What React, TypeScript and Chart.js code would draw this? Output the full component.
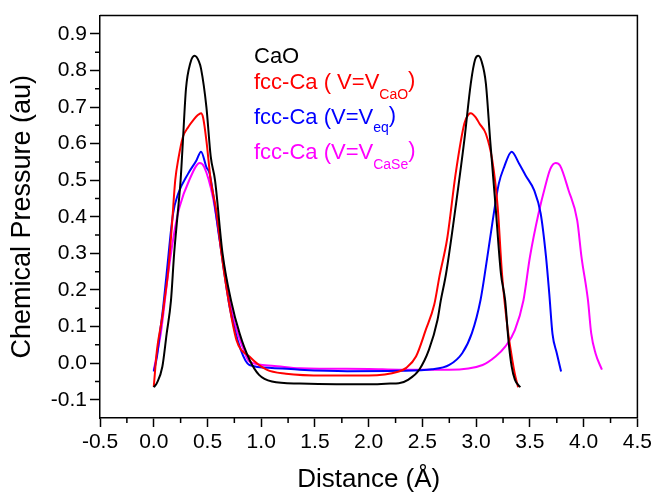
import React, { useEffect, useRef } from "react";
import { Chart, registerables } from "chart.js";

Chart.register(...registerables);

// ---- Data ----
const caoX = [0.0, 0.03, 0.08, 0.12, 0.16, 0.19, 0.22, 0.25, 0.27, 0.30, 0.34, 0.38, 0.42, 0.44, 0.49, 0.53, 0.57, 0.64, 0.72, 0.80, 0.89, 0.98, 1.10, 1.36, 1.70, 2.00, 2.20, 2.28, 2.37, 2.47, 2.56, 2.64, 2.67, 2.72, 2.81, 2.89, 2.95, 2.99, 3.02, 3.05, 3.09, 3.13, 3.18, 3.23, 3.27, 3.30, 3.33, 3.36, 3.41];
const caoY = [-0.066, -0.054, -0.01, 0.08, 0.17, 0.30, 0.40, 0.50, 0.60, 0.75, 0.82, 0.84, 0.825, 0.805, 0.70, 0.565, 0.50, 0.30, 0.17, 0.08, 0.01, -0.032, -0.05, -0.056, -0.058, -0.058, -0.056, -0.055, -0.045, -0.018, 0.036, 0.118, 0.17, 0.245, 0.43, 0.61, 0.765, 0.83, 0.84, 0.825, 0.765, 0.61, 0.43, 0.245, 0.17, 0.063, -0.009, -0.045, -0.066];

const caoVolX = [0.0, 0.03, 0.08, 0.10, 0.134, 0.17, 0.20, 0.23, 0.27, 0.32, 0.37, 0.41, 0.44, 0.46, 0.49, 0.53, 0.58, 0.63, 0.68, 0.77, 0.89, 1.05, 1.23, 1.60, 2.00, 2.28, 2.35, 2.44, 2.53, 2.61, 2.66, 2.73, 2.81, 2.89, 2.93, 2.95, 3.00, 3.03, 3.09, 3.15, 3.20, 3.24, 3.29, 3.33, 3.36, 3.39];
const caoVolY = [-0.065, 0.036, 0.127, 0.172, 0.25, 0.38, 0.50, 0.56, 0.617, 0.645, 0.665, 0.678, 0.683, 0.67, 0.608, 0.50, 0.42, 0.30, 0.20, 0.063, 0.018, -0.018, -0.029, -0.034, -0.034, -0.023, -0.013, 0.018, 0.09, 0.16, 0.24, 0.34, 0.52, 0.655, 0.68, 0.683, 0.67, 0.655, 0.627, 0.554, 0.427, 0.245, 0.10, 0.02, -0.03, -0.066];

const eqVolX = [0.0, 0.03, 0.057, 0.088, 0.12, 0.18, 0.227, 0.32, 0.397, 0.44, 0.49, 0.52, 0.613, 0.706, 0.81, 0.89, 1.10, 1.36, 1.80, 2.28, 2.59, 2.75, 2.87, 2.96, 3.04, 3.09, 3.15, 3.21, 3.26, 3.33, 3.40, 3.46, 3.54, 3.60, 3.65, 3.68, 3.71, 3.75, 3.79];
const eqVolY = [-0.023, 0.018, 0.082, 0.154, 0.245, 0.409, 0.463, 0.518, 0.554, 0.578, 0.536, 0.518, 0.336, 0.154, 0.036, -0.005, -0.013, -0.018, -0.022, -0.021, -0.017, -0.005, 0.027, 0.082, 0.172, 0.263, 0.382, 0.49, 0.536, 0.578, 0.545, 0.513, 0.472, 0.409, 0.29, 0.19, 0.08, 0.027, -0.023];

const caseVolX = [0.0, 0.03, 0.066, 0.134, 0.20, 0.24, 0.33, 0.428, 0.47, 0.55, 0.64, 0.73, 0.83, 0.89, 1.10, 1.36, 2.00, 2.28, 2.75, 3.06, 3.18, 3.27, 3.36, 3.44, 3.50, 3.58, 3.64, 3.69, 3.74, 3.78, 3.86, 3.94, 3.98, 4.04, 4.07, 4.11, 4.17];
const caseVolY = [-0.02, 0.025, 0.082, 0.245, 0.372, 0.427, 0.50, 0.547, 0.536, 0.454, 0.29, 0.136, 0.042, 0.004, -0.007, -0.014, -0.016, -0.018, -0.018, -0.005, 0.018, 0.045, 0.09, 0.172, 0.29, 0.409, 0.481, 0.531, 0.547, 0.54, 0.472, 0.39, 0.29, 0.172, 0.082, 0.027, -0.018];

const seriesNames = ["CaO", "fcc-Ca (V=V_CaO)", "fcc-Ca (V=V_eq)", "fcc-Ca (V=V_CaSe)"];
const seriesColors = ["#000000", "#ff0000", "#0000ff", "#ff00ff"];

const legendMain = ["CaO", "fcc-Ca ( V=V", "fcc-Ca (V=V", "fcc-Ca (V=V"];
const legendSub = ["", "CaO", "eq", "CaSe"];
const legendClose = ["", ")", ")", ")"];

const xTickValues = [-0.5, 0.0, 0.5, 1.0, 1.5, 2.0, 2.5, 3.0, 3.5, 4.0, 4.5];
const xMinorValues = [-0.25, 0.25, 0.75, 1.25, 1.75, 2.25, 2.75, 3.25, 3.75, 4.25];
const yTickValues = [-0.1, 0.0, 0.1, 0.2, 0.3, 0.4, 0.5, 0.6, 0.7, 0.8, 0.9];
const yMinorValues = [-0.05, 0.05, 0.15, 0.25, 0.35, 0.45, 0.55, 0.65, 0.75, 0.85];

const xTitle = "Distance (Å)";
const yTitle = "Chemical Pressure (au)";

const FONT = "'Liberation Sans', Arial, Helvetica, sans-serif";

function toPoints(xs: number[], ys: number[]) {
  return xs.map((x, i) => ({ x, y: ys[i] }));
}

const decorPlugin = {
  id: "decor",
  afterDraw(chart: any) {
    const { ctx, chartArea: a, scales } = chart;
    ctx.save();
    ctx.strokeStyle = "#000";
    ctx.lineWidth = 1.5;
    ctx.beginPath();
    ctx.moveTo(a.left, a.top);
    ctx.lineTo(a.right, a.top);
    ctx.lineTo(a.right, a.bottom);
    for (const v of xMinorValues) {
      const px = scales.x.getPixelForValue(v);
      ctx.moveTo(px, a.bottom);
      ctx.lineTo(px, a.bottom + 5);
    }
    for (const v of yMinorValues) {
      const py = scales.y.getPixelForValue(v);
      ctx.moveTo(a.left, py);
      ctx.lineTo(a.left - 5, py);
    }
    ctx.stroke();

    // legend (text with subscripts)
    const lx = a.left + 154;
    const baselines = [a.top + 47, a.top + 73, a.top + 108, a.top + 143];
    const subDrop = [0, 10, 8, 10];
    ctx.textBaseline = "alphabetic";
    ctx.textAlign = "left";
    for (let i = 0; i < legendMain.length; i++) {
      ctx.fillStyle = seriesColors[i];
      ctx.font = `22px ${FONT}`;
      let x = lx;
      ctx.fillText(legendMain[i], x, baselines[i]);
      x += ctx.measureText(legendMain[i]).width;
      if (legendSub[i]) {
        ctx.font = `14px ${FONT}`;
        ctx.fillText(legendSub[i], x, baselines[i] + subDrop[i]);
        x += ctx.measureText(legendSub[i]).width;
      }
      if (legendClose[i]) {
        ctx.font = `22px ${FONT}`;
        ctx.fillText(legendClose[i], x, baselines[i] - 2);
      }
    }
    ctx.restore();
  },
};

export default function App() {
  const ref = useRef<HTMLCanvasElement | null>(null);

  useEffect(() => {
    document.body.style.margin = "0";
    const canvas = ref.current;
    if (!canvas) return;
    const series = [
      toPoints(caoX, caoY),
      toPoints(caoVolX, caoVolY),
      toPoints(eqVolX, eqVolY),
      toPoints(caseVolX, caseVolY),
    ];
    const chart = new Chart(canvas, {
      type: "line",
      data: {
        datasets: series.map((d, i) => ({
          label: seriesNames[i],
          data: d,
          borderColor: seriesColors[i],
          backgroundColor: seriesColors[i],
          borderWidth: 2,
          pointRadius: 0,
          fill: false,
          cubicInterpolationMode: "monotone" as const,
        })),
      },
      options: {
        responsive: false,
        animation: false,
        devicePixelRatio: 1,
        layout: { padding: { top: 15, right: 16, left: 0, bottom: 0 } },
        plugins: {
          legend: { display: false },
          tooltip: { enabled: false },
        },
        scales: {
          x: {
            type: "linear",
            min: -0.5,
            max: 4.5,
            afterBuildTicks: (s: any) => {
              s.ticks = xTickValues.map((v) => ({ value: v }));
            },
            afterFit: (s: any) => {
              s.height = 75;
            },
            grid: {
              display: true,
              drawOnChartArea: false,
              drawTicks: true,
              tickLength: 9,
              tickWidth: 1.5,
              tickColor: "#000",
            },
            border: { display: true, color: "#000", width: 1.5 },
            ticks: {
              color: "#000",
              font: { family: FONT, size: 21 },
              padding: 3,
              maxRotation: 0,
              autoSkip: false,
              callback: (v: any) => Number(v).toFixed(1),
            },
            title: {
              display: true,
              text: xTitle,
              color: "#000",
              font: { family: FONT, size: 26, lineHeight: 1 },
              padding: { top: 0, bottom: 0 },
            },
          },
          y: {
            type: "linear",
            min: -0.15,
            max: 0.95,
            afterBuildTicks: (s: any) => {
              s.ticks = yTickValues.map((v) => ({ value: v }));
            },
            afterFit: (s: any) => {
              s.width = 100;
            },
            grid: {
              display: true,
              drawOnChartArea: false,
              drawTicks: true,
              tickLength: 10,
              tickWidth: 1.5,
              tickColor: "#000",
            },
            border: { display: true, color: "#000", width: 1.5 },
            ticks: {
              color: "#000",
              font: { family: FONT, size: 21 },
              padding: 3,
              autoSkip: false,
              callback: (v: any) => Number(v).toFixed(1),
            },
            title: {
              display: true,
              text: yTitle,
              color: "#000",
              font: { family: FONT, size: 27, lineHeight: 1 },
              padding: { top: 9, bottom: 0 },
            },
          },
        },
      },
      plugins: [decorPlugin],
    });
    return () => chart.destroy();
  }, []);

  return (
    <div style={{ width: 655, height: 493 }}>
      <canvas ref={ref} width={655} height={493} style={{ display: "block" }} />
    </div>
  );
}
